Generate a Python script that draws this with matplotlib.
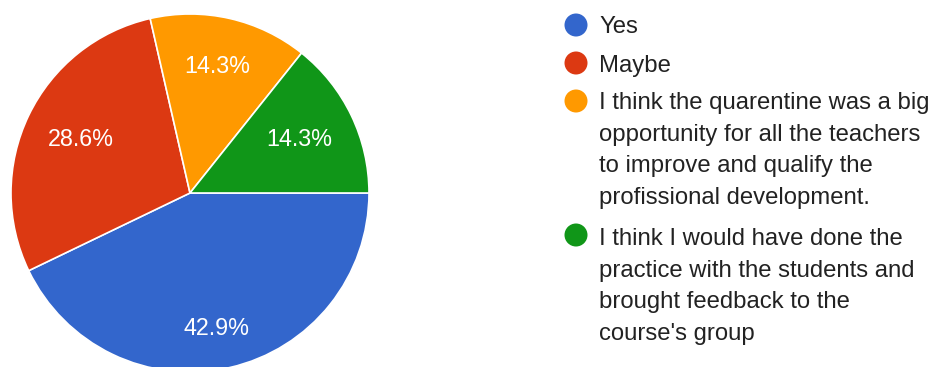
import numpy as np
import matplotlib
matplotlib.use("Agg")
import matplotlib.pyplot as plt

# Survey responses
categories = [
    "Yes",
    "Maybe",
    "I think the quarentine was a big\nopportunity for all the teachers\nto improve and qualify the\nprofissional development.",
    "I think I would have done the\npractice with the students and\nbrought feedback to the\ncourse's group",
]
counts = [3, 2, 1, 1]
colors = ["#3366cc", "#dc3912", "#ff9900", "#109618"]

plt.rcParams["font.family"] = ["Liberation Sans", "DejaVu Sans"]

W, H = 933, 367
fig = plt.figure(figsize=(W / 100, H / 100), dpi=100)
fig.patch.set_facecolor("white")

# Pie placed by pixel geometry: centre (190, 193), radius 179
cx, cy, r = 190, 193, 179
ax = fig.add_axes([(cx - r) / W, (H - cy - r) / H, 2 * r / W, 2 * r / H])
wedges, texts, autotexts = ax.pie(
    counts,
    colors=colors,
    startangle=0,
    counterclock=False,
    autopct=lambda p: f"{p:.1f}%",
    pctdistance=0.7,
    wedgeprops=dict(edgecolor="white", linewidth=1.2),
    textprops=dict(color="white", fontsize=16.8),
)
ax.set_xlim(-1, 1)
ax.set_ylim(-1, 1)
for w in wedges:
    w.set_clip_on(False)

# Label placement inside each wedge (slightly elliptical)
for w, t in zip(wedges, autotexts):
    th = np.deg2rad((w.theta1 + w.theta2) / 2)
    t.set_position((0.675 * np.cos(th), 0.75 * np.sin(th) - 0.01))
    t.set_va("center_baseline")
    t.set_ha("center")

# Legend drawn as circles and wrapped text lines in pixel coordinates
lax = fig.add_axes([0, 0, 1, 1])
lax.set_xlim(0, W)
lax.set_ylim(H, 0)
lax.axis("off")

circle_y = [25, 63, 101, 235]
first_baseline = [33, 72, 109, 245]
line_step = 31.7
for lab, col, cyy, by in zip(categories, colors, circle_y, first_baseline):
    lax.add_patch(plt.Circle((576, cyy), 11.5, color=col, ec="none"))
    for i, line in enumerate(lab.split("\n")):
        lax.text(599, by + i * line_step, line, fontsize=17.2, color="#222222",
                 ha="left", va="baseline")

fig.savefig("out.png", dpi=100, facecolor="white")
